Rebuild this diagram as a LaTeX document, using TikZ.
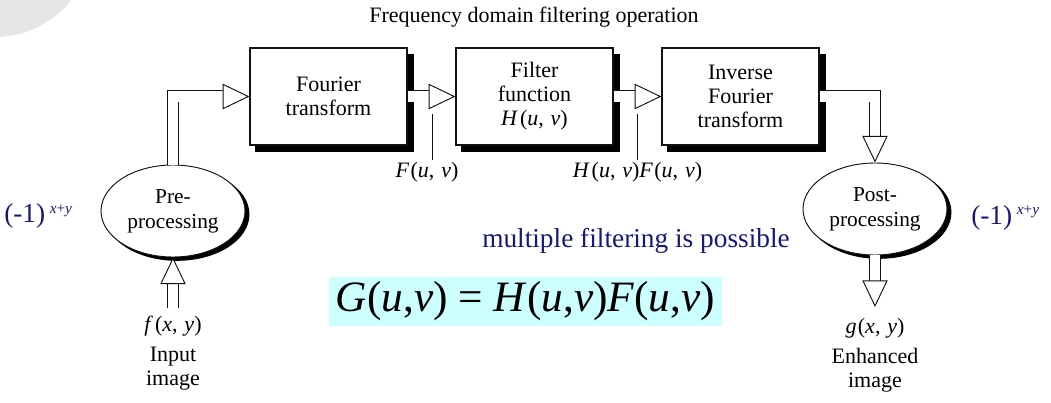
\documentclass[tikz,border=0pt]{standalone}
\usepackage{fontspec}
\setmainfont{Liberation Serif}
\usetikzlibrary{arrows.meta,positioning,shapes.geometric,shadows}
\definecolor{fdInk}{HTML}{111111}
\definecolor{fdNavy}{HTML}{17177A}
\definecolor{fdCyan}{HTML}{CCFFFF}
\definecolor{fdMist}{HTML}{E6E6E6}
\tikzset{
  blk/.style={draw=fdInk, line width=0.9pt, fill=white, minimum width=117.75pt, minimum height=72.75pt, inner sep=0pt, align=center, font=\fontsize{16.5}{18}\selectfont, copy shadow={shadow xshift=4.5pt, shadow yshift=-5pt, fill=black, draw=black}},
  proc/.style={ellipse, draw=fdInk, line width=0.7pt, fill=white, minimum width=108pt, minimum height=69pt, inner sep=0pt, align=center, font=\fontsize{16}{18.5}\selectfont, copy shadow={shadow xshift=3pt, shadow yshift=-2.5pt, fill=black, draw=black}},
  hollow/.style={draw=fdInk, line width=0.7pt, double=white, double distance=7.6pt, line join=miter, -{Triangle[length=20pt, width=19pt, fill=white, line width=0.7pt]}},
  ptr/.style={draw=fdInk, line width=0.6pt},
  lbl/.style={font=\fontsize{16.5}{18}\selectfont, inner sep=1.5pt, align=center},
  sgn/.style={text=fdNavy, font=\fontsize{20.5}{22}\selectfont, inner sep=0pt},
}

\begin{document}
\begin{tikzpicture}[x=0.75pt, y=-0.75pt, node distance=4.5pt]
  \useasboundingbox (0,0) rectangle (1051,403);
  % faded logo in the corner
  \begin{scope}
    \clip (0,0) rectangle (1051,403);
    \fill[fdMist] (-5,-60) circle (72.75pt);
  \end{scope}

  \node[font=\fontsize{16.5}{18}\selectfont] (title) at (534,17) {Frequency domain filtering operation};

  \node[blk] (ft) at (328.5,96.5) {Fourier\\transform};
  \node[blk] (flt) at (534.5,96.5) {Filter\\function\\\textit{H}\kern1.5pt(\textit{u}, \kern1pt\textit{v})};
  \node[blk] (ift) at (740.5,96.5) {Inverse\\Fourier\\transform};

  \node[proc] (pre) at (173,211) {Pre-\\processing};
  \node[proc] (post) at (875,209) {Post-\\processing};

  \coordinate (fin) at (173,308);
  \coordinate (gout) at (875,307);

  \draw[hollow] (fin) -- (pre.south);
  \draw[hollow] (pre.north) |- (ft.west);
  \foreach \u/\v in {ft/flt,flt/ift} \draw[hollow] (\u) -- (\v);
  \draw[hollow] (ift.east) -| (post.north);
  \draw[hollow] (post.south) -- (gout);

  % spectrum labels under the arrows
  \node[lbl] (fuv) at (427,172) {\textit{F}\kern1pt(\textit{u}, \kern1pt\textit{v})};
  \node[lbl] (hfuv) at (637.5,172) {\textit{H}\kern1.5pt(\textit{u}, \kern1pt\textit{v})\textit{F}\kern1pt(\textit{u}, \kern1pt\textit{v})};
  \coordinate (fp) at (432,114);
  \coordinate (hp) at (637,114);
  \draw[ptr] (fp) -- (fp |- fuv.north);
  \draw[ptr] (hp) -- (hp |- hfuv.north);

  \node[lbl] (fxy) at (173,326) {\textit{f}\kern1.5pt(\textit{x}, \kern1pt\textit{y})};
  \node[lbl, below=of fxy] (inimg) {Input\\image};
  \node[lbl] (gxy) at (875,328) {\textit{g}\kern1pt(\textit{x}, \kern1pt\textit{y})};
  \node[lbl, below=of gxy] (outimg) {Enhanced\\image};

  \node[sgn, anchor=base west] (sgnl) at (4,223) {(-1)\,\raisebox{7pt}{\fontsize{11.5}{12}\selectfont\textit{x}+\textit{y}}};
  \node[sgn, anchor=base west] (sgnr) at (971,224) {(-1)\,\raisebox{7pt}{\fontsize{11.5}{12}\selectfont\textit{x}+\textit{y}}};

  \node[sgn] (multi) at (636,241) {multiple filtering is possible};

  \node[fill=fdCyan, minimum width=294.75pt, minimum height=36.75pt, inner sep=0pt, font=\fontsize{32.5}{34}\selectfont] (eqn) at (525.5,301.5)
    {\textit{G}(\textit{u},\textit{v}) = \textit{H}(\textit{u},\textit{v})\textit{F}(\textit{u},\textit{v})};
\end{tikzpicture}
\end{document}
